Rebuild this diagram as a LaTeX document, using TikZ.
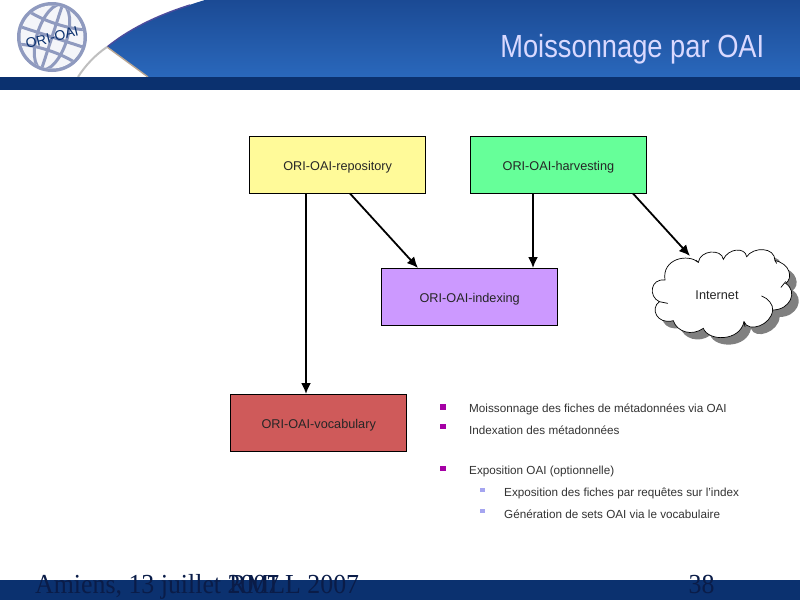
\documentclass[tikz,border=0pt]{standalone}
\usepackage{fontspec}
\setmainfont{Liberation Sans}
\newfontfamily\footfont{Liberation Serif}
\usetikzlibrary{arrows.meta,positioning}
\definecolor{barblue}{HTML}{0B316F}
\definecolor{topblue}{HTML}{1B4A94}
\definecolor{lowblue}{HTML}{2A68BC}
\definecolor{globe}{HTML}{8F9ABF}
\definecolor{footink}{HTML}{0A1C48}
\tikzset{
 x=1pt,y=-1pt,
 box/.style={draw=black,line width=0.8pt,minimum width=176pt,minimum height=57pt,inner sep=0pt,text height=11.4pt,text depth=0pt,text=black!85,font=\fontsize{12.7}{14}\selectfont,anchor=north west},
 conn/.style={draw=black,line width=1.8pt,-{Latex[length=11pt,width=10pt]}},
 bul/.style={anchor=west,inner sep=0pt,font=\fontsize{11.7}{14}\selectfont,text=black!80},
 sq1/.style={fill={rgb,255:red,165;green,0;blue,165},draw=none,minimum size=5.5pt,inner sep=0pt},
 sq2/.style={fill={rgb,255:red,165;green,165;blue,240},draw=none,minimum size=4.8pt,inner sep=0pt},
 foot/.style={anchor=base west,inner sep=0pt,text=footink,font=\footfont\fontsize{27.5}{30}\selectfont,xscale=0.94},
 cloudline/.style={line width=0.7pt,line cap=round},
 grid/.style={draw=globe,line width=3pt},
}
\begin{document}
\begin{tikzpicture}
\useasboundingbox (0,0) rectangle (800,600);
\fill[white] (0,0) rectangle (800,600);
% header
\shade[top color=topblue,bottom color=lowblue] (205,0) .. controls (165,12) and (130,28) .. (107,47) -- (148,77) -- (800,77) -- (800,0) -- cycle;
\draw[black!55!blue!70,line width=1.4pt] (190,5) .. controls (155,16) and (128,30) .. (107,47);
\draw[black!40!brown!50,line width=1.4pt] (107,47) -- (148,77);
\draw[black!25,line width=2pt] (107,47) .. controls (95,55) and (85,66) .. (78,77);
\fill[barblue] (0,77) rectangle (800,90);
\fill[barblue] (0,580) rectangle (800,600);
% logo
\fill[globe] (52,37) circle (35);
\begin{scope}
\clip (52,37) circle (31.5);
\fill[white!90!globe] (52,37) circle (32);
\begin{scope}[rotate around={-18:(52,37)}]
\draw[grid] (52,37) ellipse (15 and 34);
\draw[grid] (52,2) -- (52,72);
\draw[grid] (16,18) .. controls (36,25) and (68,25) .. (88,18);
\draw[grid] (16,37) -- (88,37);
\draw[grid] (16,56) .. controls (36,49) and (68,49) .. (88,56);
\end{scope}
\end{scope}
\node[rotate=14,inner sep=0pt,text=barblue,font=\fontsize{14}{14}\selectfont] (logotext) at (52,37.5) {ORI-OAI};
% title
\node[anchor=base east,inner sep=0pt,text=white!85!blue,font=\fontsize{32}{34}\selectfont,xscale=0.853] (title) at (764.5,57) {Moissonnage par OAI};
% boxes
\node[box,fill=yellow!40!white] (repo) at (249.3,136.3) {ORI-OAI-repository};
\node[box,fill={rgb,255:red,102;green,255;blue,153}] (harv) at (470,136.3) {ORI-OAI-harvesting};
\node[box,fill={rgb,255:red,204;green,153;blue,255}] (index) at (381.3,268.3) {ORI-OAI-indexing};
\node[box,fill={rgb,255:red,207;green,90;blue,90}] (voc) at (230.3,394.3) {ORI-OAI-vocabulary};
% cloud
\begin{scope}[shift={(620,230)},x=0.3333pt,y=-0.3333pt]
\def\cloudpath{(135,150) .. controls (125,85) and (205,70) .. (235,97)
 .. controls (240,60) and (305,55) .. (310,88)
 .. controls (325,55) and (375,50) .. (380,80)
 .. controls (400,50) and (465,50) .. (465,92)
 .. controls (510,100) and (520,145) .. (497,160)
 .. controls (535,185) and (510,240) .. (458,240)
 .. controls (455,285) and (385,310) .. (372,275)
 .. controls (360,335) and (265,335) .. (250,295)
 .. controls (215,320) and (170,305) .. (160,272)
 .. controls (110,285) and (90,235) .. (118,215)
 .. controls (85,200) and (90,145) .. (135,150) -- cycle}
\fill[black!50,shift={(21,21)}] \cloudpath;
\draw[fill=white,cloudline] \cloudpath;
\draw[cloudline] (497,155) -- (483,172);
\draw[cloudline] (425,198) .. controls (445,205) and (460,225) .. (458,240);
\draw[cloudline] (372,275) -- (375,290);
\draw[cloudline] (118,215) -- (143,220);
\draw[cloudline] (235,97) -- (228,90);
\draw[cloudline] (465,92) -- (470,100);
\end{scope}
\node[inner sep=0pt,font=\fontsize{12.7}{14}\selectfont,text=black!85] (net) at (717,295.5) {Internet};
\coordinate (netin) at (690,256);
\coordinate (repoout) at (350,193.5);
\coordinate (indexin) at (418,268);
\coordinate (repodown) at (306,193.5);
\coordinate (vocin) at (306,394);
\coordinate (harvdown) at (533,193.5);
\coordinate (indexin2) at (533,268);
\coordinate (harvout) at (633,193.5);
\draw[conn] (repodown) -- (vocin);
\draw[conn] (repoout) -- (indexin);
\draw[conn] (harvdown) -- (indexin2);
\draw[conn] (harvout) -- (netin);
% bullets
\node[sq1] (b1) at (443,407) {};
\node[sq1] (b2) at (443,426.5) {};
\node[sq1] (b3) at (443,468.5) {};
\node[sq2] (b4) at (482.5,490) {};
\node[sq2] (b5) at (482.5,511) {};
\node[bul] (t1) at (469,409) {Moissonnage des fiches de métadonnées via OAI};
\node[bul] (t2) at (469,430) {Indexation des métadonnées};
\node[bul] (t3) at (469,471.5) {Exposition OAI (optionnelle)};
\node[bul] (t4) at (504,493) {Exposition des fiches par requêtes sur l'index};
\node[bul] (t5) at (504,514) {Génération de sets OAI via le vocabulaire};
% footer
\node[foot] (f1) at (35,593) {Amiens, 13 juillet 2007};
\node[foot] (f2) at (229,593) {RMLL 2007};
\node[foot] (f3) at (688.5,593) {38};
\end{tikzpicture}
\end{document}
